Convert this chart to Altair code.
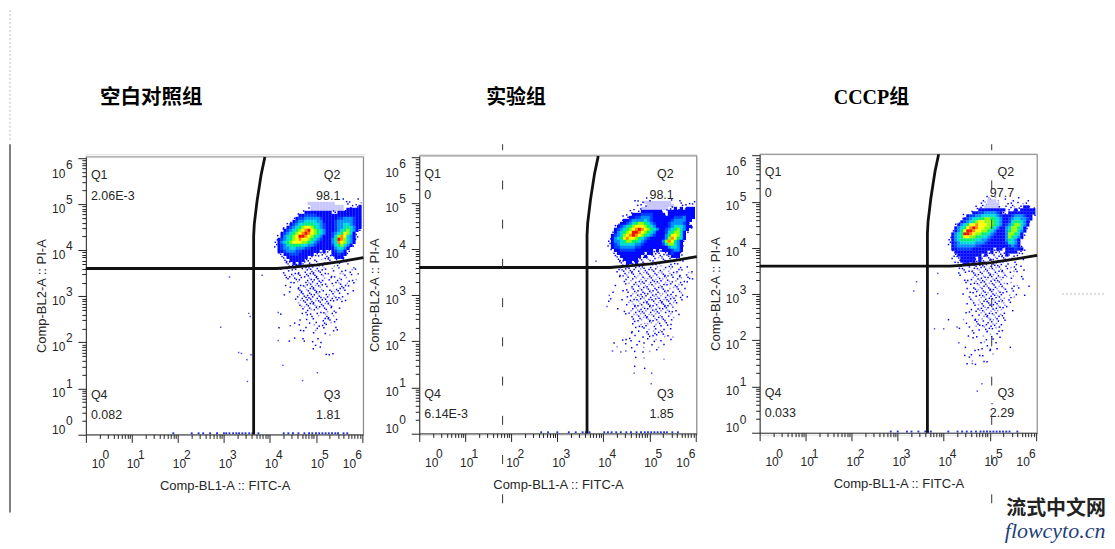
import altair as alt
import pandas as pd

STEP = 3 / 46.1
GRID_X0 = (272 - 86) / 46.1
GRID_Y0 = (434 - 198) / 46.1
LMAX = 6.03
MAX_COLS = 30

LEVEL_CODES = ["l", "b", "B", "c", "t", "g", "G", "y", "o", "r"]
LEVEL_COLORS = ["#c8c8ff", "#0008ff", "#0040ff", "#0090ff", "#00dcd8", "#00f070", "#90ff00", "#ffff00", "#ff8c00", "#f01000"]
DOT_CODES = [".", ":", "+"]
DOT_COLORS = ["#0000ff", "#8c8cff", "#0000ff"]
DOT_SIZES = [2.2, 2.2, 5.0]

GRID_1 = [
"                       . .  .  ",
"            lllllllll    .. .:.",
"             lllllllllll  .+.b.+",
"            .lllllllllll.bbbbbb+",
"          +bbbbbbbbb.+bbbbbbbbb+",
"        .bbBBBBbbbbbbbbbbbbbbbbb.",
"       +bBBcccccBbbbbbBBcccBbbb.",
"      +bBccttttccbbbbBcccccBbb.",
"     +bBcttgggttcBbbbBccttcBbb.",
"    .bBctgGyyGgtcBbbbBcctgtcbb.",
"   .bBctgGyoryGgtcbbbBctgGtcb.",
"   bBctgGyoroyGgtcbbBctgyGtb.",
"  .bctgGyrroyGgtcbbbBtGoytcb.",
" .bBctgGyoyyGgtcBbbbcgroGtcb.",
" .bctgGyyyGGgtcBbbbbctoyGtcb",
" +bBctggggttccBbbbbbBtgGtcb.",
" .bBccttcccBBbbbbbbbbcttcb.",
"  bbBcccBBbbbbbb+b+.bBccb.",
"  .+bbBBBbbbbb+.+.:.bbBbb.",
"   .+bbbbbbb+. . .+.+bbb.",
"    .+bbbbb+. ..: .. . . .",
"    ..+b+b+.+. : . .  .  .",
"     . .b+.+ . : .  : .",
"   . .+.+ .+..:+.:. : . . :..   ",
"    .. + . ++..+..  . :.  .     ",
"    . .:.+ ..+.+.:. .  :. . .   ",
"    ...+.+ .:++. : . .:.:   :   ",
"      . :. .+.+.+. . ..  . .    ",
"    .  . . .:+:+. . . :.+: .    ",
"      .  ..:+++.: . : ++..      ",
"        ...:+++.:. ..+.:.  .    ",
"      .  .. +++:. . .:+  .      ",
"    .   .:..+++.. .::. .        ",
"        .:.+++:+.:...+.:.       ",
"         :.+.++.+:.:.  .        ",
"         .:+.+::+..:.           ",
"          .:.:.:..+.  .         ",
"           .+ . . : ..          ",
"   .      .. . . .: .           ",
"             . : .+.:           ",
"         . . .   +.. .          ",
"       .    . .  ..: .          ",
"         . .  :. .   .          ",
"  .      .    :. .   .          ",
"          .   .  .  .           ",
"                   :            ",
"       .  .    .                ",
"     .    .  .  .               ",
"              .                 ",
"                .               ",
"             .                  ",
"                  . .           ",
"                   .            ",
]
GRID_2 = [
"          .  . .      .  .      ",
"           ..lllllllll   .  ... ",
"          . ..lllllllll  . + +  ",
"         . .lllllllll+.b+b+bbb. ",
"        .  +bbbbbbb.+bbbbbbbbb.",
"       .+bbbBBBBbbbb+bbbbbbbbbb",
"      .+bbBBcccBbbbbbbbBBBcbbb.",
"     +bbBcccctcBbbbbbbBccccbb",
"    .bbBctgGGgtcBbbbbBccccBb.",
"   .bBctgGyyyGgtcbbbbBctttcbb.",
"   bBctgGyoroyGgtcbbBctgGtcb.",
"  .bctgGyrroyGgtcbbbBtgGGtb.",
"  bBctGyoroyGgtcBbbbcgyyGtb",
" .bctgyoyyGgtcBbbbbbcGoygtb",
" .bcctgGGggtcBbbbbbcGoygcb.",
" +bBctttttccBbbbbbbBtGGtcb",
" .bBBcccccBBbbbbbbbbbcttcb.",
"  .bbBBBBBbbbbbb+b+bbbBccb",
"   +bbbbbbbbb+bb+.+.+bBbb+",
"   .+bbbbbbb+b+..:..+.bbb. .    ",
"    .+bbbbb++.:.. :.+. + .      ",
"    ..+bb+b+.+ :. .  . .  .     ",
"     .+b+.+.. :: .:  .. .       ",
"    ++.+.+.:+..+.: :.:. .+ .    ",
"    .+.:++ .:+:.+:.: :. .. : .  ",
"     .+:.+ .:.+:+.:+.:.: . .:   ",
"    . .+ .::+:+.::+.:.. .: ..   ",
"      ..:. .:+:.+:.:+: :. .  .  ",
"      . :.+:.+:+:+:.:.+ :. .    ",
"   .     .:.+:+.:.:+. :.+.      ",
"       .:. :.:+:+.:.:: :. .     ",
"  .   .. .:.+++:+.:.:+. .:      ",
"        .:.:+.++:.::+:.. .      ",
" .     . .:.+:+++:.:.+:. . .    ",
" .   . :.:.:+:+.+:+.+.:. .      ",
"       . :.:.+++:.+.+.:.        ",
"         .:+:.+:.:+.+..         ",
"    . . :.:+.:+.:.:.:. .        ",
"      . .:.:.+:.:.. .:. .       ",
"         .:.:+.:.+:. .:         ",
"         . .:.:.:.:+. .         ",
"         . . :.:.:.:.           ",
"         . .:.: .:. . .         ",
"          . ..: .  . .          ",
"         . .  . :.:.            ",
"        . .  :. .. .            ",
"        .   . . .  : .:         ",
"     . ..  .  . .:.   .         ",
"   .  .      .     .            ",
"    :     . :  . :              ",
"        .        .              ",
"         .  . :                 ",
"                                ",
"          .  :     :            ",
"                                ",
"                                ",
"         .   .                  ",
]
GRID_3 = [
"             .:::   .   .       ",
"            .:lll:    .    .    ",
"            .:llll  . . .: .    ",
"          ...lllll+ ...:.+bb+.  ",
"          .bbbbbbbbb +.b+bbbbbb.",
"        .bbBBccccBb+.bbbbbbbbb.",
"      .bBBcctttttcBbbbBcccBbb+",
"     .bBcttggGGggtcbbBcttccBb",
"    .bBctgGyyGGGgtcbbBtggtcb.",
"   .bctgyyoyyyGGgtcbBcgGGtcb",
"   bctgyoroyyGGgtcbbctGGgtb.",
"  .bcgyrroyyGGgtcbbbcgGGtcb",
"  bctgrroyGGggtcBbbbcGGgtb.",
" .bctgyyGGggttcBbbbbcGgtcb",
" +bctgggggttccBbbbbbcgtcb.",
" .bBctttttcccBbbbbbbBttcb",
" .bBccccccBBbbbbbbbbbBcBb.",
"  bbBBBBBbbbbbbb+bb+bbbBbb.",
"  .bbbbbbbbbbb+b+.+.bbbb+.",
"  .+bbbbbbbb+b+.+.+.b+. ..",
"  ..+bbbbb+b+:.+:.+.. .",
"   .+bbbbb+b++.:..:.:  .  .     ",
"    .+bb+b+.+.:+.:.:.  .        ",
"    .+ +.+.+.+:+:.+ .: . .      ",
"     .++ :.::+.+:.:.. :.  .     ",
"    . . .+:.+:+.+:.: . .        ",
"    .    .:.:+.+:.:.: :  .      ",
"      . .:.:+:+:+.:.  .  .      ",
"      .. .:..+:+:+.: :          ",
"        . .:.+:++:.:. . :  .    ",
"       . ..:.:+++:.:. . .       ",
"        . .:.+++.:. . .         ",
"     .   . .:+:++:+. : .  .     ",
"        . .:.:+++:.: . :        ",
"        .: :.+:+:.:. .          ",
"       . . :+.+:+.:: .          ",
"         . :.:+:+:.:.           ",
"        . .:.:+.:.:.            ",
"      . . .:.:+:.: .  .         ",
"         . .:.+.:.:.            ",
"          . :.:+:. .            ",
" .    :  ..:. :.:. .            ",
"       .  .. .+:.:.             ",
"    .   . : .:..: .             ",
"         . . .:. . .            ",
"         .   . : .              ",
"       .  . :  .  .             ",
"         .   . .                ",
"           . :  .               ",
"              .                 ",
"      .     .  . .   .          ",
"         . .  .                 ",
"      . .  .   :                ",
"        .   .                   ",
"         :  .                   ",
"       .  .  .                  ",
]

OUT_1_X = [3.12, 2.93, 3.54, 3.57, 3.32, 3.38, 3.50, 3.59, 3.51, 4.18, 4.18, 4.28, 4.44, 5.03, 4.71, 3.83]
OUT_1_Y = [3.42, 2.33, 2.63, 2.56, 1.78, 1.76, 1.62, 1.73, 1.15, 2.65, 2.04, 1.50, 2.36, 1.34, 1.17, 3.46]
OUT_2_X = [4.08, 4.13, 3.84, 4.20, 4.38, 4.67, 5.05, 5.04, 4.49]
OUT_2_Y = [2.76, 3.00, 3.74, 1.79, 1.77, 1.31, 1.31, 1.08, 1.79]
OUT_3_X = [3.41, 3.35, 3.87, 3.87, 3.80, 4.00, 3.66, 4.29, 4.33, 4.62, 4.73, 4.83, 5.05]
OUT_3_Y = [3.27, 3.07, 3.45, 3.01, 2.25, 2.25, 1.78, 2.29, 1.95, 1.50, 0.90, 1.06, 0.63]

RUG_1 = [1.9, 2.3, 2.45, 2.55, 2.7, 2.85, 3.0, 3.05, 3.12, 3.2, 3.27, 3.33, 3.4, 3.47, 3.55, 3.62, 3.75, 4.3, 4.4, 4.5, 4.62, 4.75, 4.85, 4.92, 5.0, 5.07, 5.14, 5.21, 5.28, 5.35, 5.42, 5.48, 5.6, 5.68]
RUG_2 = [2.65, 2.8, 3.0, 3.25, 3.4, 3.55, 3.62, 3.7, 4.02, 4.1, 4.18, 4.28, 4.38, 4.5, 4.6, 4.72, 4.82, 4.9, 4.97, 5.04, 5.11, 5.18, 5.25, 5.32, 5.38, 5.5, 5.62]
RUG_3 = [2.85, 3.0, 3.2, 3.3, 3.45, 3.6, 3.66, 3.72, 4.1, 4.3, 4.4, 4.5, 4.6, 4.7, 4.8, 4.87, 4.94, 5.01, 5.08, 5.15, 5.22, 5.29, 5.36, 5.43, 5.6]

GATE_V_X = [3.646, 3.646, 3.66, 3.72, 3.81, 3.89]
GATE_V_Y = [0.0, 4.31, 4.57, 5.07, 5.65, 6.03]
GATE_H_X = [0.0, 4.15, 4.44, 5.03, 5.53, 6.03]
GATE_H_Y = [3.605, 3.605, 3.63, 3.685, 3.757, 3.84]

Q_NAMES = ["Q1", "Q2", "Q3", "Q4"]
Q_X = [0.11, 5.53, 5.53, 0.11]
Q_Y = [5.64, 5.64, 0.85, 0.85]
V_Y = [5.18, 5.18, 0.43, 0.43]
Q_VALUES = [
    ["2.06E-3", "98.1", "1.81", "0.082"],
    ["0", "98.1", "1.85", "6.14E-3"],
    ["0", "97.7", "2.29", "0.033"],
]
TITLES = ["空白对照组", "实验组", "CCCP组"]

DECADES = [0, 1, 2, 3, 4, 5, 6]
EXP_TEXT = ["0", "1", "2", "3", "4", "5", "6"]
EXP_SHIFT_X = [0.23, 0, 0, 0, 0, 0, -0.28]
EXP_SHIFT_Y = [0.184, 0, 0, 0, 0, 0, -0.24]
MINOR = [1, 2, 3, 4, 5, 6, 7, 8, 9]

FONT = "Liberation Sans"
TXT = "#262626"
FRAME = "#808080"
VIEW_H = 281
tick_values = [m * 10 ** d for d in DECADES[:-1] for m in MINOR] + [10 ** 6]
major = "indexof([1,10,100,1000,10000,100000,1000000], datum.value) >= 0"
lo_x = {"condition": [{"test": "datum.value == 1", "value": 12},
                      {"test": "datum.value == 1000000", "value": -13}], "value": 1}
lo_y = {"condition": [{"test": "datum.value == 1", "value": -5},
                      {"test": "datum.value == 1000000", "value": 15}], "value": 4}
tick_size = {"condition": {"test": major, "value": 8}, "value": 4}

sx = alt.Scale(type="log", domain=[1, 10 ** LMAX], nice=False)
ONE = pd.DataFrame({"k": [0]})

yaxis = alt.Axis(values=tick_values, labelExpr=f"{major} ? '10' : ''", tickSize=tick_size,
                 labelOffset=lo_y, labelPadding=13, labelFont=FONT, labelFontSize=12, labelColor=TXT,
                 labelOverlap=False, labelFlush=False, labelBound=False,
                 tickColor="#222", domainColor="#222", grid=False,
                 title="Comp-BL2-A :: PI-A", titleFont=FONT, titleFontSize=13, titleFontWeight="normal",
                 titleColor=TXT, titlePadding=3)


def grid_frames(grid):
    cells, dots = [], []
    for r, row in enumerate(grid):
        for c, ch in enumerate(row[:MAX_COLS]):
            lx, ly = GRID_X0 + c * STEP, GRID_Y0 - r * STEP
            if ch in LEVEL_CODES:
                cells.append({"x": 10 ** lx, "x2": 10 ** (lx + STEP * 1.08),
                              "y": 10 ** ly, "y2": 10 ** (ly - STEP * 1.08), "lev": ch})
            elif ch in DOT_CODES:
                ox = ((r * 7 + c * 13) % 5 - 2) * STEP * 0.22
                oy = ((r * 11 + c * 3) % 5 - 2) * STEP * 0.22
                dots.append({"x": 10 ** (lx + STEP / 2 + ox), "y": 10 ** (ly - STEP / 2 + oy), "d": ch})
    return pd.DataFrame(cells), pd.DataFrame(dots)


def page_rule(x, y, y2=None, x2=None, color="black", width=1, dash=None, offset=0):
    kw = dict(color=color, strokeWidth=width)
    if dash:
        kw.update(strokeDash=dash, strokeDashOffset=offset)
    enc = dict(x=alt.value(x), y=alt.value(y))
    if y2 is not None:
        enc["y2"] = alt.value(y2)
    if x2 is not None:
        enc["x2"] = alt.value(x2)
    return alt.Chart(ONE).mark_rule(**kw).encode(**enc)


def panel(i, grid, bottom, top, title_xy, title_font, extras):
    sy = alt.Scale(type="log", domain=[1, 10 ** LMAX], nice=False, range=[bottom, top])
    xaxis = alt.Axis(values=tick_values, labelExpr=f"{major} ? '10' : ''", tickSize=tick_size,
                     labelOffset=lo_x, labelPadding=16, labelFont=FONT, labelFontSize=12, labelColor=TXT,
                     labelOverlap=False, labelFlush=False, labelBound=False, labelAngle=0,
                     tickColor="#222", domainColor="#222", grid=False, offset=bottom - VIEW_H,
                     title="Comp-BL1-A :: FITC-A", titleFont=FONT, titleFontSize=13, titleFontWeight="normal",
                     titleColor=TXT, titlePadding=10)

    def X():
        return alt.X("x:Q", scale=sx, axis=xaxis)

    def Y():
        return alt.Y("y:Q", scale=sy, axis=yaxis)

    cells, dots = grid_frames(grid)
    gate = pd.DataFrame(
        [{"x": max(10 ** a, 1), "y": 10 ** b, "g": "v", "i": j} for j, (a, b) in enumerate(zip(GATE_V_X, GATE_V_Y))]
        + [{"x": max(10 ** a, 1), "y": 10 ** b, "g": "h", "i": j} for j, (a, b) in enumerate(zip(GATE_H_X, GATE_H_Y))]
    )
    out_x, out_y = [OUT_1_X, OUT_2_X, OUT_3_X][i], [OUT_1_Y, OUT_2_Y, OUT_3_Y][i]
    out = pd.DataFrame({"x": [10 ** v for v in out_x], "y": [10 ** v for v in out_y]})
    rug = pd.DataFrame({"x": [10 ** v for v in [RUG_1, RUG_2, RUG_3][i]], "y": [1.06] * len([RUG_1, RUG_2, RUG_3][i])})
    qs = pd.DataFrame({
        "x": [10 ** v for v in Q_X] * 2,
        "y": [10 ** v for v in Q_Y] + [10 ** v for v in V_Y],
        "t": Q_NAMES + Q_VALUES[i],
        "a": ["left", "right", "right", "left"] * 2,
    })
    exp_x = pd.DataFrame({"x": [10 ** (d + s) for d, s in zip(DECADES, EXP_SHIFT_X)], "t": EXP_TEXT})
    exp_y = pd.DataFrame({"y": [10 ** (d + s) for d, s in zip(DECADES, EXP_SHIFT_Y)], "t": EXP_TEXT})

    layers = [
        page_rule(0, top, x2=278, color=FRAME),
        page_rule(278, top, y2=bottom, color=FRAME),
        alt.Chart(cells).mark_rect(strokeWidth=0).encode(
            x=X(), x2="x2:Q", y=Y(), y2="y2:Q",
            color=alt.Color("lev:N", scale=alt.Scale(domain=LEVEL_CODES, range=LEVEL_COLORS), legend=None)),
        alt.Chart(dots).mark_square(strokeWidth=0, opacity=1).encode(
            x=X(), y=Y(),
            fill=alt.Fill("d:N", scale=alt.Scale(domain=DOT_CODES, range=DOT_COLORS), legend=None),
            size=alt.Size("d:N", scale=alt.Scale(domain=DOT_CODES, range=DOT_SIZES), legend=None)),
        alt.Chart(out).mark_square(color="#2020ff", size=2.2, opacity=0.8).encode(x=X(), y=Y()),
        alt.Chart(rug).mark_square(color="#2030e0", size=3.5, opacity=1, clip=False).encode(x=X(), y=Y()),
        alt.Chart(gate).mark_line(color="#111", strokeWidth=2.8).encode(
            x=X(), y=Y(), detail="g:N", order=alt.Order("i:Q")),
        alt.Chart(qs[qs.a == "left"]).mark_text(align="left", baseline="middle", font=FONT, fontSize=12.5, color=TXT)
        .encode(x=X(), y=Y(), text="t:N"),
        alt.Chart(qs[qs.a == "right"]).mark_text(align="right", baseline="middle", font=FONT, fontSize=12.5, color=TXT)
        .encode(x=X(), y=Y(), text="t:N"),
        alt.Chart(exp_x).mark_text(align="center", baseline="middle", dx=9.5, font=FONT, fontSize=12, color=TXT)
        .encode(x=X(), y=alt.value(bottom + 21), text="t:N"),
        alt.Chart(exp_y).mark_text(align="left", baseline="middle", dy=-4.5, font=FONT, fontSize=12, color=TXT)
        .encode(x=alt.value(-20), y=Y(), text="t:N"),
        alt.Chart(pd.DataFrame({"t": [TITLES[i]]})).mark_text(
            align="center", baseline="middle", font=title_font, fontSize=title_xy[2], fontWeight="bold", color="black")
        .encode(x=alt.value(title_xy[0]), y=alt.value(title_xy[1]), text="t:N"),
    ] + extras
    return alt.layer(*layers).properties(width=278, height=VIEW_H)


dash_kw = dict(color="#333", width=1, dash=[9, 30.3], offset=3)

p1 = panel(0, GRID_1, 280.7, 2.7, (65.5, -56.3, 20.5), "Noto Sans CJK SC", [
    page_rule(-76, -144.5, y2=-13, color="#bbbbbb", dash=[2, 2]),
    page_rule(-76, -10, y2=359),
])
p2 = panel(1, GRID_2, 279.7, 1.7, (97, -56.3, 20), "Noto Sans CJK SC", [
    page_rule(83.5, -10, y2=350, **dash_kw),
    page_rule(291, 20, y2=30, color="white"),
])
p3 = panel(2, GRID_3, 279, 0, (112, -56.3, 20), "Liberation Serif, Noto Sans CJK SC", [
    page_rule(232.5, -10, y2=350, **dash_kw),
    page_rule(303, 140, x2=345, color="#bbbbbb", dash=[2, 2]),
    alt.Chart(pd.DataFrame({"t": ["流式中文网"]})).mark_text(
        align="center", baseline="middle", font="Noto Sans CJK SC", fontSize=20, fontWeight="bold", color="#222")
    .encode(x=alt.value(297), y=alt.value(355), text="t:N"),
    alt.Chart(pd.DataFrame({"t": ["flowcyto.cn"]})).mark_text(
        align="center", baseline="middle", font="Liberation Serif", fontSize=22, fontStyle="italic", color="#1f3f78")
    .encode(x=alt.value(296), y=alt.value(377), text="t:N"),
])

chart = alt.concat(p1, p2, p3, columns=3, spacing=-2, align="none", padding={"left": 1, "top": 0, "right": 0, "bottom": 0}).configure_view(
    stroke=None).configure(background="white")
chart.save("out.html", embed_options={"renderer": "svg", "actions": False})
